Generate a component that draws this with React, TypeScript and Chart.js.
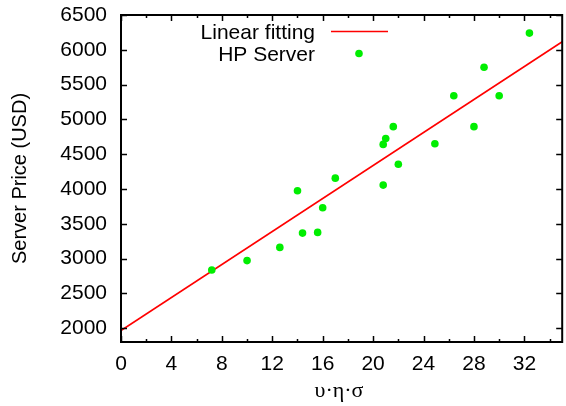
import React, { useEffect, useRef } from "react";
import { Chart, registerables } from "chart.js";

Chart.register(...registerables);

// ---- data ----
const serverX = [7.2, 10.0, 12.6, 14.0, 14.4, 15.6, 16.0, 17.0, 20.8, 20.8, 21.0, 21.6, 22.0, 24.9, 26.4, 28.0, 28.8, 30.0, 32.4];
const serverY = [2835, 2970, 3160, 3975, 3365, 3375, 3730, 4155, 4055, 4640, 4725, 4895, 4355, 4650, 5340, 4895, 5750, 5340, 6240];
const fitX = [0, 35];
const fitY = [1965, 6116];

const xRange = [0, 35];
const yRange = [1800, 6500];
const xTickValues = [0, 4, 8, 12, 16, 20, 24, 28, 32];
const xMinorTickValues = [2, 6, 10, 14, 18, 22, 26, 30, 34];
const yTickValues = [2000, 2500, 3000, 3500, 4000, 4500, 5000, 5500, 6000, 6500];

const seriesLabels = ["Linear fitting", "HP Server"];
const xTitle = "υ·η·σ";
const yTitle = "Server Price (USD)";

const SANS = '"Liberation Sans", Arial, Helvetica, sans-serif';
const SERIF = '"Liberation Serif", "Times New Roman", serif';
const GREEN = "#00ee00";
const RED = "#ff0000";

const framePlugin = {
  id: "gnuFrame",
  afterDatasetsDraw(chart: any) {
    const { ctx, chartArea: a, scales } = chart;
    const x = scales.x;
    const y = scales.y;
    ctx.save();
    // frame
    ctx.strokeStyle = "#000";
    ctx.lineWidth = 2;
    ctx.strokeRect(a.left, a.top, a.right - a.left, a.bottom - a.top);
    // inward ticks
    ctx.lineWidth = 1.5;
    ctx.beginPath();
    for (const v of xTickValues) {
      const px = Math.round(x.getPixelForValue(v)) + 0.5;
      ctx.moveTo(px, a.bottom);
      ctx.lineTo(px, a.bottom - 6);
      ctx.moveTo(px, a.top);
      ctx.lineTo(px, a.top + 6);
    }
    for (const v of xMinorTickValues) {
      const px = Math.round(x.getPixelForValue(v)) + 0.5;
      ctx.moveTo(px, a.bottom);
      ctx.lineTo(px, a.bottom - 3);
      ctx.moveTo(px, a.top);
      ctx.lineTo(px, a.top + 3);
    }
    for (const v of yTickValues) {
      const py = Math.round(y.getPixelForValue(v)) + 0.5;
      ctx.moveTo(a.left, py);
      ctx.lineTo(a.left + 6, py);
      ctx.moveTo(a.right, py);
      ctx.lineTo(a.right - 6, py);
    }
    ctx.stroke();

    // legend (gnuplot style: text then sample)
    ctx.fillStyle = "#000";
    ctx.font = `21px ${SANS}`;
    ctx.textAlign = "right";
    ctx.textBaseline = "alphabetic";
    const tx = a.left + 194;
    ctx.fillText(seriesLabels[0], tx, a.top + 23.5);
    ctx.fillText(seriesLabels[1], tx, a.top + 45.5);
    ctx.strokeStyle = RED;
    ctx.lineWidth = 1.5;
    ctx.beginPath();
    ctx.moveTo(a.left + 210, a.top + 16.5);
    ctx.lineTo(a.left + 267, a.top + 16.5);
    ctx.stroke();
    ctx.fillStyle = GREEN;
    ctx.beginPath();
    ctx.arc(a.left + 238, a.top + 38.5, 3.8, 0, Math.PI * 2);
    ctx.fill();

    // axis titles
    ctx.fillStyle = "#000";
    ctx.textAlign = "center";
    ctx.font = `22px ${SERIF}`;
    ctx.fillText(xTitle, 339, 397);
    ctx.font = `20px ${SANS}`;
    ctx.translate(26, (a.top + a.bottom) / 2);
    ctx.rotate(-Math.PI / 2);
    ctx.fillText(yTitle, 0, 0);
    ctx.restore();
  },
};

export default function App() {
  const canvasRef = useRef<HTMLCanvasElement | null>(null);

  useEffect(() => {
    const canvas = canvasRef.current;
    if (!canvas) return;
    Chart.defaults.font.family = SANS;
    const chart = new Chart(canvas, {
      type: "scatter",
      data: {
        datasets: [
          {
            label: seriesLabels[1],
            data: serverX.map((v, i) => ({ x: v, y: serverY[i] })),
            backgroundColor: GREEN,
            borderColor: GREEN,
            pointRadius: 3.8,
            pointHoverRadius: 3.8,
            borderWidth: 0,
            order: 0,
          },
          {
            label: seriesLabels[0],
            data: fitX.map((v, i) => ({ x: v, y: fitY[i] })),
            showLine: true,
            borderColor: RED,
            backgroundColor: RED,
            borderWidth: 1.6,
            pointRadius: 0,
            order: 1,
          },
        ],
      },
      options: {
        responsive: false,
        animation: false,
        devicePixelRatio: 1,
        layout: { padding: { top: 15, right: 1, left: 0, bottom: 0 } },
        plugins: {
          legend: { display: false },
          tooltip: { enabled: false },
        },
        scales: {
          x: {
            type: "linear",
            min: xRange[0],
            max: xRange[1],
            grid: { display: false, drawTicks: false },
            border: { display: false },
            afterBuildTicks: (s: any) => {
              s.ticks = xTickValues.map((v) => ({ value: v }));
            },
            afterFit: (s: any) => {
              s.height = 64;
              s.paddingLeft = 0;
              s.paddingRight = 0;
              s.paddingTop = 0;
              s.paddingBottom = 0;
            },
            ticks: {
              padding: 10,
              color: "#000",
              font: { size: 21, family: SANS },
              maxRotation: 0,
              autoSkip: false,
              callback: (v: any) => String(v),
            },
          },
          y: {
            type: "linear",
            min: yRange[0],
            max: yRange[1],
            grid: { display: false, drawTicks: false },
            border: { display: false },
            afterBuildTicks: (s: any) => {
              s.ticks = yTickValues.map((v) => ({ value: v }));
            },
            afterFit: (s: any) => {
              s.width = 121;
              s.paddingLeft = 0;
              s.paddingRight = 0;
              s.paddingTop = 0;
              s.paddingBottom = 0;
            },
            ticks: {
              padding: 14,
              color: "#000",
              font: { size: 21, family: SANS },
              autoSkip: false,
              callback: (v: any) => String(v),
            },
          },
        },
      },
      plugins: [framePlugin],
    });
    return () => chart.destroy();
  }, []);

  return (
    <div style={{ position: "absolute", left: 0, top: 0, width: 566, height: 406, background: "#fff" }}>
      <canvas ref={canvasRef} width={566} height={406} style={{ display: "block" }} />
    </div>
  );
}
